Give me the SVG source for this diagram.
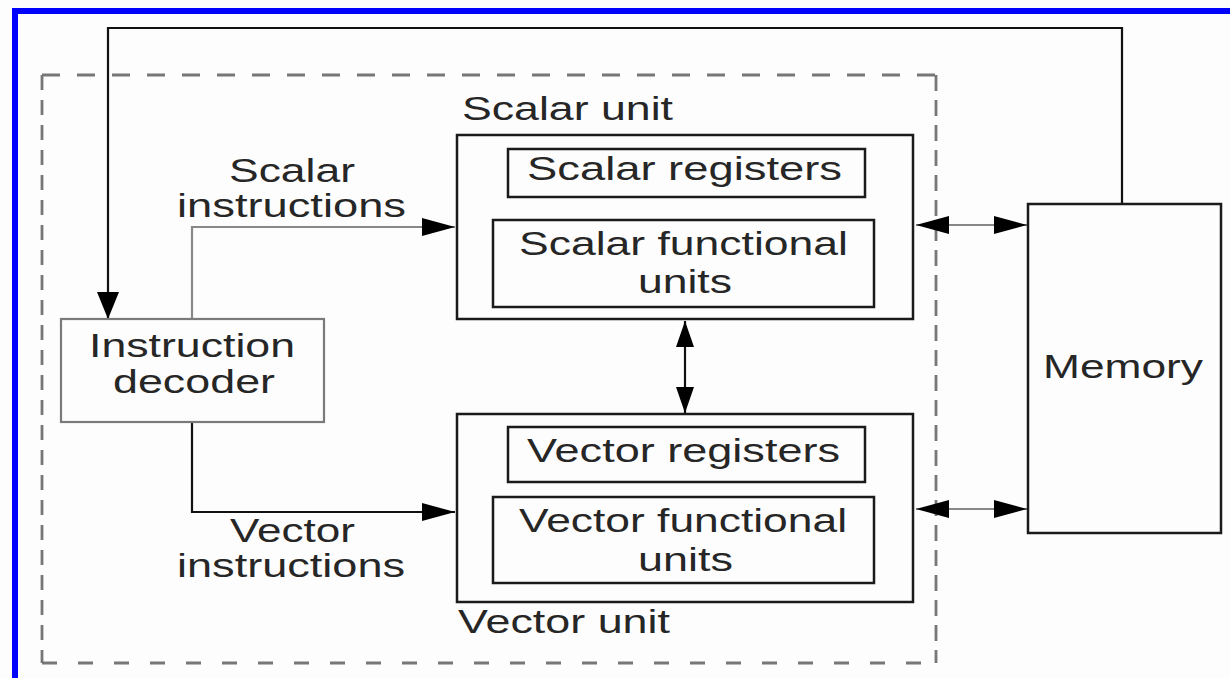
<svg xmlns="http://www.w3.org/2000/svg" width="1230" height="678" viewBox="0 0 1230 678">
  <style>
    .box { fill: none; stroke: #1a1a1a; stroke-width: 2.5; }
    .soft { fill: none; stroke: #7a7a7a; stroke-width: 2.2; }
    .wire { fill: none; stroke: #111; stroke-width: 2.2; }
    .gwire { fill: none; stroke: #888; stroke-width: 2.2; }
    .dash { fill: none; stroke: #777; stroke-width: 2.8; }
    text { font-family: "Liberation Sans", Arial, sans-serif; font-size: 33px; fill: #262626; }
  </style>
  <defs>
    <marker id="head" markerUnits="userSpaceOnUse" markerWidth="34" markerHeight="18" refX="33" refY="9" orient="auto-start-reverse">
      <path d="M0,0 L33,9 L0,18 Z" fill="#000"/>
    </marker>
    <marker id="head-wide" markerUnits="userSpaceOnUse" markerWidth="28" markerHeight="22" refX="27" refY="11" orient="auto-start-reverse">
      <path d="M0,0 L27,11 L0,22 Z" fill="#000"/>
    </marker>
    <marker id="head-short" markerUnits="userSpaceOnUse" markerWidth="27" markerHeight="18" refX="26" refY="9" orient="auto-start-reverse">
      <path d="M0,0 L26,9 L0,18 Z" fill="#000"/>
    </marker>
  </defs>

  <!-- page and frame -->
  <rect x="0" y="0" width="1230" height="678" fill="#fdfdfd"/>
  <rect x="12" y="8" width="1218" height="6" fill="#0000ff"/>
  <rect x="12" y="8" width="6" height="670" fill="#0000ff"/>

  <!-- processor boundary -->
  <g id="processor-boundary">
    <line class="dash" x1="42" y1="75" x2="936" y2="75" stroke-dasharray="18 17"/>
    <line class="dash" x1="42" y1="663" x2="936" y2="663" stroke-dasharray="15 21"/>
    <line class="dash" x1="42" y1="75" x2="42" y2="663" stroke-dasharray="15 10"/>
    <line class="dash" x1="936" y1="75" x2="936" y2="663" stroke-dasharray="16 9"/>
  </g>

  <!-- connectors -->
  <g id="connectors">
    <path class="wire" d="M1122,204 V28 H108 V319" marker-end="url(#head-wide)"/>
    <path class="gwire" d="M192,319 V227 H455" marker-end="url(#head)"/>
    <path class="wire" d="M192,422 V512 H455" marker-end="url(#head)"/>
    <line class="wire" x1="685" y1="321" x2="685" y2="413" marker-start="url(#head-short)" marker-end="url(#head-short)"/>
    <line class="gwire" x1="916" y1="225" x2="1027" y2="225" marker-start="url(#head)" marker-end="url(#head)"/>
    <line class="gwire" x1="916" y1="509" x2="1027" y2="509" marker-start="url(#head)" marker-end="url(#head)"/>
  </g>

  <!-- instruction decoder -->
  <g id="instruction-decoder">
    <rect class="soft" x="61" y="319" width="263" height="103"/>
    <text x="89" y="357" textLength="206" lengthAdjust="spacingAndGlyphs">Instruction</text>
    <text x="113" y="393" textLength="162" lengthAdjust="spacingAndGlyphs">decoder</text>
  </g>

  <g id="scalar-instructions-label">
    <text x="229" y="182" textLength="126" lengthAdjust="spacingAndGlyphs">Scalar</text>
    <text x="177" y="217" textLength="229" lengthAdjust="spacingAndGlyphs">instructions</text>
  </g>

  <g id="vector-instructions-label">
    <text x="230" y="542" textLength="125" lengthAdjust="spacingAndGlyphs">Vector</text>
    <text x="177" y="577" textLength="228" lengthAdjust="spacingAndGlyphs">instructions</text>
  </g>

  <!-- scalar unit -->
  <g id="scalar-unit">
    <text x="462" y="120" textLength="211" lengthAdjust="spacingAndGlyphs">Scalar unit</text>
    <rect class="box" x="457" y="135" width="456" height="184"/>
  </g>
  <g id="scalar-registers">
    <rect class="box" x="508" y="149" width="357" height="48"/>
    <text x="527" y="180" textLength="315" lengthAdjust="spacingAndGlyphs">Scalar registers</text>
  </g>
  <g id="scalar-functional-units">
    <rect class="box" x="493" y="220" width="381" height="87"/>
    <text x="519" y="255" textLength="329" lengthAdjust="spacingAndGlyphs">Scalar functional</text>
    <text x="638" y="293" textLength="94" lengthAdjust="spacingAndGlyphs">units</text>
  </g>

  <!-- vector unit -->
  <g id="vector-unit">
    <rect class="box" x="457" y="414" width="456" height="188"/>
    <text x="458" y="633" textLength="212" lengthAdjust="spacingAndGlyphs">Vector unit</text>
  </g>
  <g id="vector-registers">
    <rect class="box" x="508" y="427" width="357" height="55"/>
    <text x="527" y="462" textLength="313" lengthAdjust="spacingAndGlyphs">Vector registers</text>
  </g>
  <g id="vector-functional-units">
    <rect class="box" x="493" y="497" width="381" height="86"/>
    <text x="519" y="532" textLength="328" lengthAdjust="spacingAndGlyphs">Vector functional</text>
    <text x="638" y="571" textLength="95" lengthAdjust="spacingAndGlyphs">units</text>
  </g>

  <!-- memory -->
  <g id="memory">
    <rect class="box" x="1028" y="204" width="193" height="329"/>
    <text x="1043" y="378" font-size="35" textLength="160" lengthAdjust="spacingAndGlyphs">Memory</text>
  </g>
</svg>
